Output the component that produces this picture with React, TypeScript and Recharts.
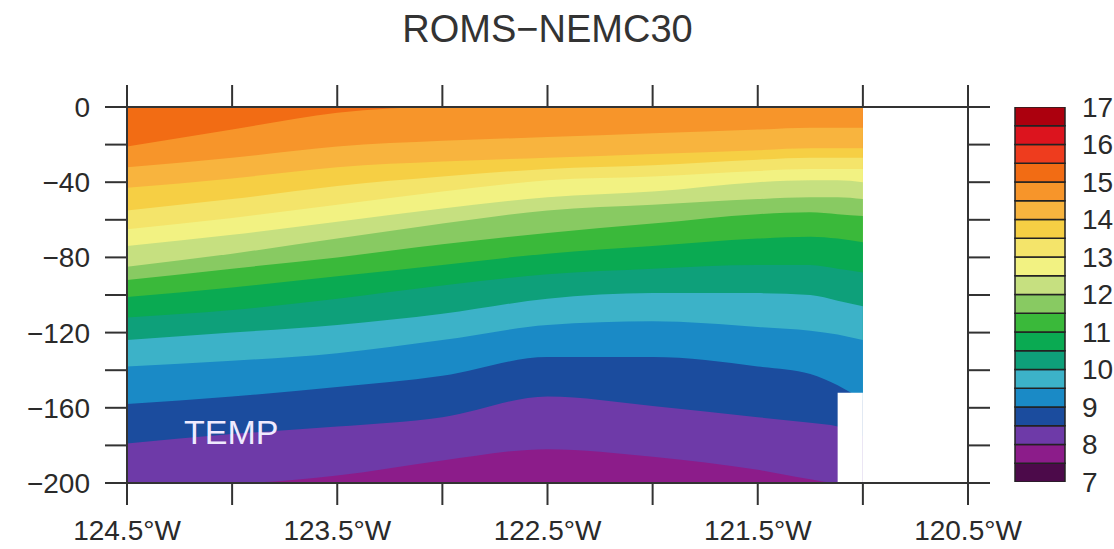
import React from 'react';
import { ComposedChart, Area, XAxis, YAxis, BarChart, Bar } from 'recharts';

const title = 'ROMS\u2212NEMC30';
const fieldLabel = 'TEMP';

// section longitudes (deg W)
const lons = [124.5, 124.0, 123.5, 123.0, 122.5, 122.0, 121.5, 121.25, 121.12, 121.0];

// depth (m) of each isotherm along the section
const seaSurface = [0, 0, 0, 0, 0, 0, 0, 0, 0, 0];
const iso15 = [21, 12, 3, 0, 0, 0, 0, 0, 0, 0];
const iso14_5 = [32, 27, 21, 18, 16, 14, 12, 11, 11, 11];
const iso14 = [43, 38, 32, 29, 27, 25, 23, 22, 22, 22];
const iso13_5 = [55, 49, 42, 37, 33, 31, 28, 27, 27, 27];
const iso13 = [65, 59, 52, 45, 39, 37, 34, 33, 33, 33];
const iso12_5 = [74, 68, 61, 54, 48, 45, 40, 39, 39, 40];
const iso12 = [85, 78, 70, 62, 55, 52, 49, 48, 48, 49];
const iso11_5 = [92, 86, 80, 73, 67, 62, 57, 56, 57, 58];
const iso11 = [101, 96, 90, 84, 78, 74, 70, 69, 70, 72];
const iso10_5 = [112, 108, 102, 95, 89, 86, 84, 84, 86, 88];
const iso10 = [124, 120, 116, 110, 102, 99, 99, 100, 103, 106];
const iso9_5 = [138, 135, 131, 124, 116, 114, 117, 119, 121, 124];
const iso9 = [158, 154, 149, 143, 133, 133, 138, 142, 148, 156];
const iso8_5 = [179, 174, 170, 165, 154, 159, 165, 168, 170, 175];
const iso8 = [200, 200, 196, 188, 182, 186, 193, 198, 200, 200];

// no data below this depth east of the step (coast)
const noDataLons = [121.12, 121.0];
const noDataTop = 152;
const bottomDepth = 200;

// contour levels and colours (7 -> 17)
const levels = [7, 7.5, 8, 8.5, 9, 9.5, 10, 10.5, 11, 11.5, 12, 12.5, 13, 13.5, 14, 14.5, 15, 15.5, 16, 16.5, 17];
const levelColors = [
  '#4c0a4a', '#8c1c8a', '#6e3aa8', '#1b4c9e', '#1a8ac6', '#3cb2c8', '#0ea07a', '#0aaa52', '#3ab93a', '#88ca62',
  '#c6e080', '#f2f282', '#f4e46a', '#f6cf44', '#f8b43e', '#f7952a', '#f26c14', '#ee3c1e', '#dc141e', '#ac000e',
];
const colorbarTicks = [7, 8, 9, 10, 11, 12, 13, 14, 15, 16, 17];

const lonTicks = [124.5, 124, 123.5, 123, 122.5, 122, 121.5, 121, 120.5];
const depthTicks = [0, -20, -40, -60, -80, -100, -120, -140, -160, -180, -200];

// each band fills from its upper isotherm down to the bottom, warm first
const bands = [
  { key: 's', depths: seaSurface, level: 15 },
  { key: 't15', depths: iso15, level: 14.5 },
  { key: 't14_5', depths: iso14_5, level: 14 },
  { key: 't14', depths: iso14, level: 13.5 },
  { key: 't13_5', depths: iso13_5, level: 13 },
  { key: 't13', depths: iso13, level: 12.5 },
  { key: 't12_5', depths: iso12_5, level: 12 },
  { key: 't12', depths: iso12, level: 11.5 },
  { key: 't11_5', depths: iso11_5, level: 11 },
  { key: 't11', depths: iso11, level: 10.5 },
  { key: 't10_5', depths: iso10_5, level: 10 },
  { key: 't10', depths: iso10, level: 9.5 },
  { key: 't9_5', depths: iso9_5, level: 9 },
  { key: 't9', depths: iso9, level: 8.5 },
  { key: 't8_5', depths: iso8_5, level: 8 },
  { key: 't8', depths: iso8, level: 7.5 },
];

const rows = lons.map((lon, i) => {
  const row: Record<string, any> = { lon };
  bands.forEach((b) => {
    row[b.key] = -b.depths[i];
  });
  if (noDataLons.includes(lon)) row.noData = [-bottomDepth, -noDataTop];
  return row;
});

const cbRow: Record<string, any> = { name: 'T', base: levels[0] };
levels.slice(1).forEach((lv, i) => {
  cbRow['b' + i] = lv - levels[i];
});

const colorOf = (level: number) => levelColors[levels.indexOf(level)];

const fontFamily = '"Liberation Sans", Arial, Helvetica, sans-serif';
const ink = '#2a2a2a';
const lineStyle = { stroke: '#333', strokeWidth: 2 };
const tickFont = { fontSize: 28, fill: ink };

const fmtLon = (v: number) => ((124.5 - v) % 1 === 0 ? `${v}°W` : '');
const fmtDepth = (v: number) => (v % 40 === 0 ? (v < 0 ? '\u2212' + Math.abs(v) : String(v)) : '');
const blank = () => '';

const App = () => {
  return (
    <div style={{ position: 'absolute', left: 0, top: 0, width: 1114, height: 549, background: '#fff', fontFamily }}>
      <div style={{ position: 'absolute', left: 0, width: 1095, top: 10, textAlign: 'center', fontSize: 38, lineHeight: '38px', color: '#333' }}>
        {title}
      </div>

      <div style={{ position: 'absolute', left: 0, top: 0 }}>
        <ComposedChart width={1114} height={549} data={rows} margin={{ top: 0, right: 0, bottom: 0, left: 0 }}>
          <XAxis
            dataKey="lon"
            type="number"
            domain={[120.5, 124.5]}
            reversed
            allowDataOverflow
            ticks={lonTicks}
            interval={0}
            tickFormatter={fmtLon}
            height={66}
            tickSize={22}
            tickMargin={15}
            tick={tickFont}
            axisLine={lineStyle}
            tickLine={lineStyle}
          />
          <XAxis
            xAxisId="top"
            orientation="top"
            dataKey="lon"
            type="number"
            domain={[120.5, 124.5]}
            reversed
            allowDataOverflow
            ticks={lonTicks}
            interval={0}
            tickFormatter={blank}
            height={107}
            tickSize={22}
            axisLine={lineStyle}
            tickLine={lineStyle}
          />
          <YAxis
            type="number"
            domain={[-200, 0]}
            allowDataOverflow
            ticks={depthTicks}
            interval={0}
            tickFormatter={fmtDepth}
            width={127}
            tickSize={22}
            tickMargin={15}
            tick={tickFont}
            axisLine={lineStyle}
            tickLine={lineStyle}
          />
          <YAxis
            yAxisId="right"
            orientation="right"
            type="number"
            domain={[-200, 0]}
            allowDataOverflow
            ticks={depthTicks}
            interval={0}
            tickFormatter={blank}
            width={146}
            tickSize={22}
            axisLine={lineStyle}
            tickLine={lineStyle}
          />
          {bands.map((b) => (
            <Area
              key={b.key}
              dataKey={b.key}
              type="monotone"
              baseValue={-bottomDepth}
              fill={colorOf(b.level)}
              fillOpacity={1}
              stroke="none"
              isAnimationActive={false}
            />
          ))}
          <Area dataKey="noData" type="linear" fill="#ffffff" fillOpacity={1} stroke="none" isAnimationActive={false} />
        </ComposedChart>
      </div>

      <div style={{ position: 'absolute', left: 184, top: 415, fontSize: 34, lineHeight: '34px', color: '#efeaff' }}>
        {fieldLabel}
      </div>

      <div style={{ position: 'absolute', left: 1000, top: 0 }}>
        <BarChart width={114} height={549} data={[cbRow]} margin={{ top: 107, right: 0, bottom: 67, left: 15 }} barCategoryGap={0}>
          <XAxis dataKey="name" hide />
          <YAxis
            orientation="right"
            type="number"
            domain={[7, 17]}
            allowDataOverflow
            ticks={colorbarTicks}
            interval={0}
            width={49}
            tickLine={false}
            axisLine={false}
            tickSize={6}
            tickMargin={11}
            tick={tickFont}
          />
          <Bar dataKey="base" stackId="cb" fill="none" isAnimationActive={false} />
          {levelColors.map((c, i) => (
            <Bar key={i} dataKey={'b' + i} stackId="cb" fill={c} stroke="#222" strokeWidth={1.5} isAnimationActive={false} />
          ))}
        </BarChart>
      </div>
    </div>
  );
};

export default App;
